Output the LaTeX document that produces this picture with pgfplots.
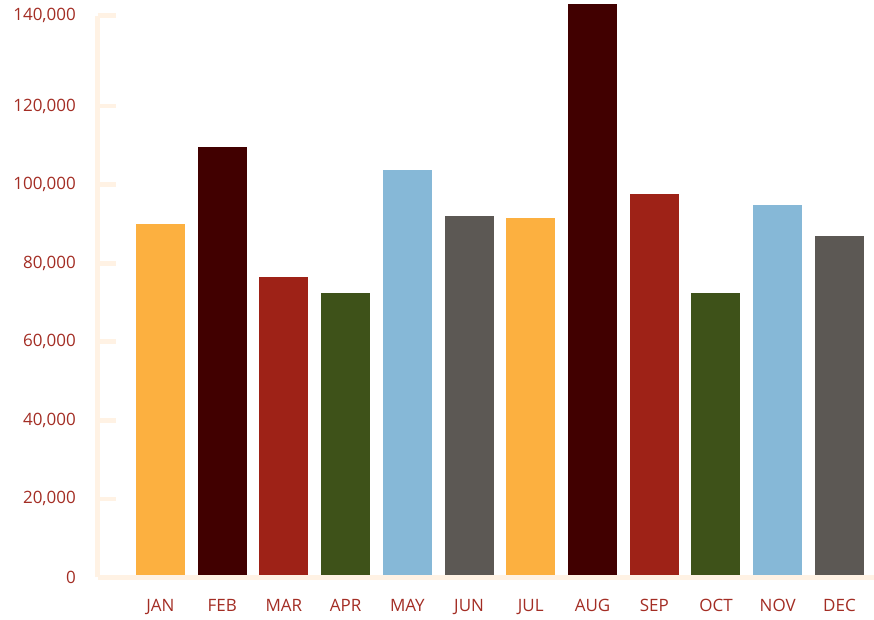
\documentclass[border=0pt]{standalone}
\usepackage{pgfplots}
\pgfplotsset{compat=1.18}
\usepackage{fontspec}
\setmainfont{Open Sans}
\definecolor{cream}{RGB}{255,242,228}
\definecolor{lab}{RGB}{163,45,36}
\definecolor{c1}{RGB}{252,176,64}
\definecolor{c2}{RGB}{65,0,0}
\definecolor{c3}{RGB}{158,34,23}
\definecolor{c4}{RGB}{62,82,25}
\definecolor{c5}{RGB}{134,184,215}
\definecolor{c6}{RGB}{92,88,84}
\begin{document}
\begin{tikzpicture}
\begin{axis}[
  at={(97.5pt,42.5pt)}, anchor=south west,
  scale only axis, width=776.5pt, height=561.8pt,
  xmin=-1.02, xmax=11.56, ymin=0, ymax=143000,
  clip=false, axis on top,
  axis x line=bottom, axis y line=left,
  axis line style={draw=cream, line width=5pt, -},
  xtick={0,...,11},
  xticklabels={JAN,FEB,MAR,APR,MAY,JUN,JUL,AUG,SEP,OCT,NOV,DEC},
  xtick style={draw=none},
  ytick={0,20000,40000,60000,80000,100000,120000,143000},
  yticklabels={0,{20,000},{40,000},{60,000},{80,000},{100,000},{120,000},{140,000}},
  ytick style={draw=cream, line width=4.7pt},
  tick align=inside, major tick length=18.5pt,
  /pgf/number format/assume math mode=true,
  ticklabel style={font=\fontsize{17pt}{20pt}\selectfont, text=lab, inner sep=0pt},
  xticklabel style={anchor=north, yshift=-21.5pt},
  yticklabel style={anchor=east, xshift=-21.5pt},
  every axis plot/.append style={ybar, bar width=49pt, draw=none},
]
\addplot[fill=c1] coordinates {(0,90000)};
\addplot[fill=c2] coordinates {(1,109700)};
\addplot[fill=c3] coordinates {(2,76600)};
\addplot[fill=c4] coordinates {(3,72500)};
\addplot[fill=c5] coordinates {(4,103800)};
\addplot[fill=c6] coordinates {(5,92100)};
\addplot[fill=c1] coordinates {(6,91600)};
\addplot[fill=c2] coordinates {(7,145900)};
\addplot[fill=c3] coordinates {(8,97700)};
\addplot[fill=c4] coordinates {(9,72500)};
\addplot[fill=c5] coordinates {(10,94900)};
\addplot[fill=c6] coordinates {(11,86800)};
\end{axis}
\pgfresetboundingbox
\useasboundingbox (0,0) rectangle (874pt,620pt);
\end{tikzpicture}
\end{document}
